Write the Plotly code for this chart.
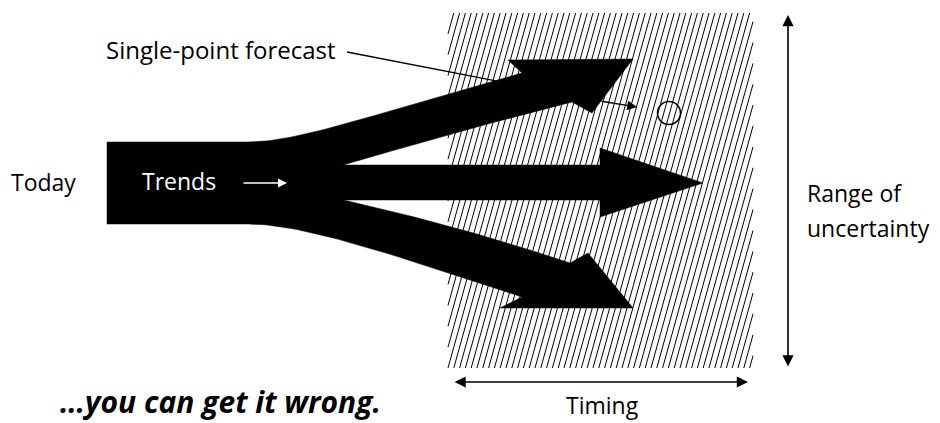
import plotly.graph_objects as go

# canvas in pixel units (y grows downward)
W, H = 940, 423

# hatched "range of uncertainty" box
HATCH_X = [448, 753]
HATCH_Y = [13, 368]
HATCH_STEP = 5.8      # horizontal gap between hatch lines
HATCH_SLOPE = 3.6     # dy/dx of each hatch line

# black "trends" shape, built from straight runs and bezier edges
BLOCK = [(107, 224), (107, 142), (248, 142)]
UP_TOP = [(248, 142), (300, 142), (380, 112), (522, 73)]
UP_HEAD = [(508, 60), (633, 59), (592, 113), (572, 102)]
UP_BOT = [(572, 102), (480, 125), (343, 165)]
MID = [(600, 165), (600, 148), (703, 183), (600, 217), (600, 200), (343, 200)]
LOW_TOP = [(343, 200), (460, 226), (570, 263)]
LOW_HEAD = [(588, 253), (633, 308), (500, 308), (522, 297)]
LOW_BOT = [(522, 297), (380, 250), (300, 224), (248, 224)]

FORECAST_LINE = [(347, 52), (600, 101)]
FORECAST_TIP = (637, 107)
FORECAST_POINT = (669, 113)
FORECAST_R = 11.5

FONT = "Open Sans"


def bezier(pts, n=40):
    out = []
    for i in range(n + 1):
        t = i / n
        p = list(pts)
        while len(p) > 1:
            p = [((1 - t) * a[0] + t * b[0], (1 - t) * a[1] + t * b[1]) for a, b in zip(p, p[1:])]
        out.append(p[0])
    return out


outline = (BLOCK + bezier(UP_TOP)[1:] + UP_HEAD + bezier(UP_BOT)[1:] + MID
           + bezier(LOW_TOP)[1:] + LOW_HEAD + bezier(LOW_BOT)[1:])
outline.append(outline[0])

# hatch lines clipped to the box
hx, hy = [], []
x0, x1 = HATCH_X
y0, y1 = HATCH_Y
span = (y1 - y0) / HATCH_SLOPE
c = x0 - span
while c < x1:
    # line: x = c + (y1 - y) / slope
    xa, ya = c, y1
    xb, yb = c + span, y0
    if xa < x0:
        ya = y1 - (x0 - c) * HATCH_SLOPE
        xa = x0
    if xb > x1:
        yb = y1 - (x1 - c) * HATCH_SLOPE
        xb = x1
    if xa < xb:
        hx += [xa, xb, None]
        hy += [ya, yb, None]
    c += HATCH_STEP

fig = go.Figure()
fig.add_trace(go.Scatter(x=hx, y=hy, mode="lines", line=dict(color="black", width=1),
                         hoverinfo="skip"))
fig.add_trace(go.Scatter(x=[p[0] for p in FORECAST_LINE], y=[p[1] for p in FORECAST_LINE],
                         mode="lines", line=dict(color="black", width=1.3), hoverinfo="skip"))
fig.add_trace(go.Scatter(x=[p[0] for p in outline], y=[p[1] for p in outline], mode="lines",
                         fill="toself", fillcolor="black", line=dict(color="black", width=0.5),
                         hoverinfo="skip"))

fig.add_shape(type="circle", xref="x", yref="y",
              x0=FORECAST_POINT[0] - FORECAST_R, x1=FORECAST_POINT[0] + FORECAST_R,
              y0=FORECAST_POINT[1] - FORECAST_R, y1=FORECAST_POINT[1] + FORECAST_R,
              line=dict(color="black", width=1.5))


def arrow(tip, tail, color="black", both=False, width=1.6, size=1.4):
    fig.add_annotation(x=tip[0], y=tip[1], ax=tail[0], ay=tail[1], xref="x", yref="y",
                       axref="x", ayref="y", text="", showarrow=True, arrowhead=2,
                       arrowsize=size, arrowwidth=width, arrowcolor=color,
                       arrowside="end+start" if both else "end", standoff=0, startstandoff=0)


arrow(FORECAST_TIP, FORECAST_LINE[1], width=1.3, size=1.5)
arrow((287, 183), (242, 183), color="white", width=1.5, size=1.2)
arrow((788, 15), (788, 368), both=True)
arrow((748, 382), (453, 382), both=True)


def label(x, y, text, anchor="left", size=23, color="black", **kw):
    fig.add_annotation(x=x, y=y, xref="x", yref="y", text=text, showarrow=False,
                       xanchor=anchor, yanchor="middle",
                       font=dict(family=FONT, size=size, color=color), **kw)


label(104, 49, "Single-point forecast", size=24)
label(9, 182, "Today")
label(140, 181, "Trends", color="white")
label(805, 193, "Range of")
label(805, 228, "uncertainty")
label(602, 405, "Timing", anchor="center")
label(58, 401, "<b><i>…you can get it wrong.</i></b>", size=30)

fig.update_xaxes(range=[0, W], visible=False)
fig.update_yaxes(range=[H, 0], visible=False)
fig.update_layout(width=W, height=H, margin=dict(l=0, r=0, t=0, b=0),
                  paper_bgcolor="white", plot_bgcolor="white", showlegend=False)

fig.write_html("out.html", config={"displayModeBar": False},
               post_script="document.body.style.margin = '0';")
